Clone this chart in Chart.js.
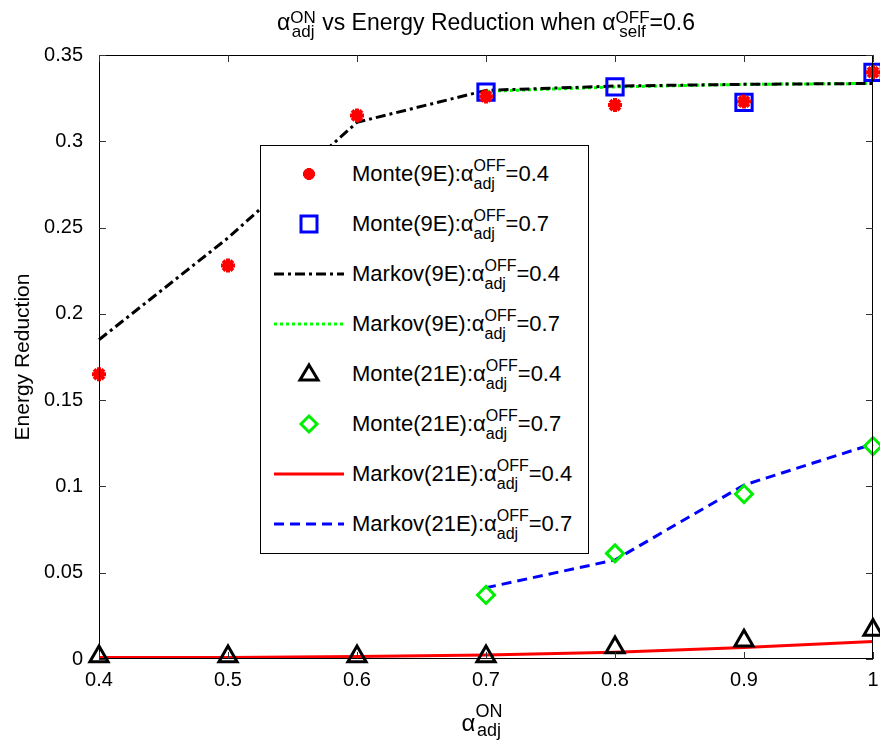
<!DOCTYPE html>
<html>
<head>
<meta charset="utf-8">
<script src="https://cdn.jsdelivr.net/npm/chart.js@4.4.1/dist/chart.umd.min.js"></script>
<style>
  html, body { margin: 0; overflow: hidden; background: #fff; font-family: 'Liberation Sans', Arial, sans-serif; color: #000; }
  #wrap { position: relative; width: 880px; height: 742px; overflow: hidden; }
  #c { display: block; }
  .ovl { position: absolute; white-space: nowrap; }
  /* stacked super/subscript: both in one grid cell, shifted visually */
  .ss { display: inline-grid; }
  .ss > span { grid-area: 1 / 1; position: relative; }
  #legend { position: absolute; left: 260px; top: 145px; width: 327px; height: 407px;
            border: 1px solid #000; background: #fff; }
  .row { position: absolute; left: 0; height: 50px; width: 100%; }
  .row svg { position: absolute; left: 13px; top: 0; }
  .row .txt { position: absolute; left: 91px; top: 0; font-size: 22px; line-height: 50px; }
  .txt .ss { font-size: 16px; line-height: 16px; }
  .txt .up { top: -10px; }
  .txt .dn { top: 8px; }
</style>
</head>
<body>
<div id="wrap">
  <canvas id="c"></canvas>

  <div class="ovl" id="title" style="left:99px;width:774px;top:0;text-align:center;font-size:23px;line-height:44px;">
    α<span class="ss" style="font-size:17px;line-height:17px"><span style="top:-7px">ON</span><span style="top:7px">adj</span></span> vs Energy Reduction when α<span class="ss" style="font-size:17px;line-height:17px"><span style="top:-7px">OFF</span><span style="top:7px">self</span></span>=0.6
  </div>

  <div class="ovl" id="xlabel" style="left:95px;width:774px;top:703px;text-align:center;font-size:24px;line-height:40px;">
    α<span class="ss" style="font-size:18px;line-height:18px"><span style="top:-14px">ON</span><span style="top:5px">adj</span></span>
  </div>

  <div id="legend"></div>
</div>

<script>
// valeurs
const xVals = [0.4, 0.5, 0.6, 0.7, 0.8, 0.9, 1.0];
const yTicks = [0, 0.05, 0.1, 0.15, 0.2, 0.25, 0.3, 0.35];

const monte9E_04   = [0.165, 0.228, 0.315, 0.326, 0.321, 0.323, 0.340];
const monte9E_07   = [null, null, null, 0.3285, 0.3315, 0.3225, 0.340];
const markov9E_04  = [0.185, 0.244, 0.311, 0.3295, 0.332, 0.333, 0.3335];
const markov9E_07  = [null, null, null, 0.329, 0.3315, 0.333, 0.3335];
const monte21E_04  = [0.0015, 0.0015, 0.0015, 0.0015, 0.0066, 0.0106, 0.0168];
const monte21E_07  = [null, null, null, 0.0371, 0.0612, 0.0956, 0.1234];
const markov21E_04 = [0.0008, 0.0009, 0.0015, 0.0023, 0.0039, 0.0066, 0.0101];
const markov21E_07 = [null, null, null, 0.0413, 0.0574, 0.1008, 0.1246];

const legendNames = ['Monte(9E)', 'Monte(9E)', 'Markov(9E)', 'Markov(9E)',
                     'Monte(21E)', 'Monte(21E)', 'Markov(21E)', 'Markov(21E)'];
const legendOff = ['0.4', '0.7', '0.4', '0.7', '0.4', '0.7', '0.4', '0.7'];

const FONT = "'Liberation Sans', Arial, sans-serif";
const pts = (arr) => xVals.map((x, i) => ({ x, y: arr[i] })).filter(p => p.y !== null);

const marker = (data, style, color, radius, width) => ({
  data: pts(data), showLine: false, pointStyle: style, pointRadius: radius,
  pointBorderColor: color, pointBackgroundColor: 'rgba(0,0,0,0)', pointBorderWidth: width,
  pointHoverRadius: radius, clip: false,
});
const line = (data, color, dash) => ({
  data: pts(data), showLine: true, borderColor: color, borderWidth: 3, borderDash: dash,
  pointRadius: 0, pointHoverRadius: 0, fill: false, tension: 0, clip: false,
});

const datasets = [
  marker(monte9E_04, 'star', '#ff0000', 7, 4),
  marker(monte9E_07, 'rect', '#0000ff', 11.5, 3),
  line(markov9E_04, '#000000', [10, 4, 3, 4]),
  line(markov9E_07, '#00ff00', [3, 3]),
  marker(monte21E_04, 'triangle', '#000000', 10.5, 3),
  marker(monte21E_07, 'rectRot', '#00ee00', 8.5, 3),
  line(markov21E_04, '#ff0000', []),
  line(markov21E_07, '#0000ff', [10, 6]),
];

// cadre + graduations intérieures sur les quatre côtés
const frame = {
  id: 'frame',
  afterDraw(chart) {
    const { ctx, chartArea: a, scales: { x, y } } = chart;
    const L = 7;
    ctx.save();
    ctx.strokeStyle = '#000';
    ctx.lineWidth = 1;
    ctx.strokeRect(Math.round(a.left) + 0.5, Math.round(a.top) + 0.5,
                   Math.round(a.width) - 1, Math.round(a.height) - 1);
    ctx.strokeStyle = '#333';
    ctx.beginPath();
    x.ticks.forEach(t => {
      const px = Math.round(x.getPixelForValue(t.value)) + 0.5;
      ctx.moveTo(px, a.bottom); ctx.lineTo(px, a.bottom - L);
      ctx.moveTo(px, a.top); ctx.lineTo(px, a.top + L);
    });
    y.ticks.forEach(t => {
      const py = Math.round(y.getPixelForValue(t.value)) + 0.5;
      ctx.moveTo(a.left, py); ctx.lineTo(a.left + L, py);
      ctx.moveTo(a.right, py); ctx.lineTo(a.right - L, py);
    });
    ctx.stroke();
    ctx.restore();
  },
};

new Chart(document.getElementById('c'), {
  type: 'scatter',
  data: { datasets },
  options: {
    responsive: true, maintainAspectRatio: false, animation: false,
    layout: { autoPadding: false, padding: { top: 55, right: 7, left: 0, bottom: 0 } },
    plugins: { legend: { display: false }, tooltip: { enabled: false }, title: { display: false } },
    scales: {
      x: {
        type: 'linear', min: 0.4, max: 1.0,
        afterFit: (s) => { s.height = 83; s.paddingLeft = 0; s.paddingRight = 0; },
        afterBuildTicks: (s) => { s.ticks = xVals.map(v => ({ value: v })); },
        // tick marks drawn by the frame plugin; transparent ones here only push the labels down
        grid: { display: true, drawOnChartArea: false, color: 'rgba(0,0,0,0)', tickLength: 9 },
        border: { display: false },
        ticks: { color: '#000', padding: 0, font: { family: FONT, size: 20 },
                 callback: (v) => String(+v.toFixed(1)) },
      },
      y: {
        min: 0, max: 0.35,
        afterFit: (s) => { s.width = 99; s.paddingTop = 0; s.paddingBottom = 0; },
        afterBuildTicks: (s) => { s.ticks = yTicks.map(v => ({ value: v })); },
        grid: { display: false }, border: { display: false },
        ticks: { color: '#000', padding: 8, font: { family: FONT, size: 20 },
                 callback: (v) => String(+v.toFixed(2)) },
        title: { display: true, text: 'Energy Reduction', color: '#000', padding: { top: 11, bottom: 0 },
                 font: { family: FONT, size: 21 } },
      },
    },
  },
  plugins: [frame],
});

// légende HTML (indices et exposants superposés)
const icons = [
  '<path d="M35 19v12M29 25h12M30.8 20.8l8.4 8.4M39.2 20.8l-8.4 8.4" stroke="#f00" stroke-width="4" fill="none"/>',
  '<rect x="27" y="17" width="16" height="16" stroke="#00f" stroke-width="3" fill="none"/>',
  '<line x1="0" y1="25" x2="70" y2="25" stroke="#000" stroke-width="3" stroke-dasharray="10 4 3 4"/>',
  '<line x1="0" y1="25" x2="70" y2="25" stroke="#0f0" stroke-width="3" stroke-dasharray="3 3"/>',
  '<path d="M35 16 L44 31 L26 31 Z" stroke="#000" stroke-width="3" fill="none"/>',
  '<path d="M35 17 L43 25 L35 33 L27 25 Z" stroke="#0e0" stroke-width="3" fill="none"/>',
  '<line x1="0" y1="25" x2="70" y2="25" stroke="#f00" stroke-width="3"/>',
  '<line x1="0" y1="25" x2="70" y2="25" stroke="#00f" stroke-width="3" stroke-dasharray="10 6"/>',
];
document.getElementById('legend').innerHTML = legendNames.map((n, i) =>
  `<div class="row" style="top:${3 + i * 50}px">
     <svg width="70" height="50">${icons[i]}</svg>
     <div class="txt">${n}:α<span class="ss"><span class="up">OFF</span><span class="dn">adj</span></span>=${legendOff[i]}</div>
   </div>`).join('');
</script>
</body>
</html>
